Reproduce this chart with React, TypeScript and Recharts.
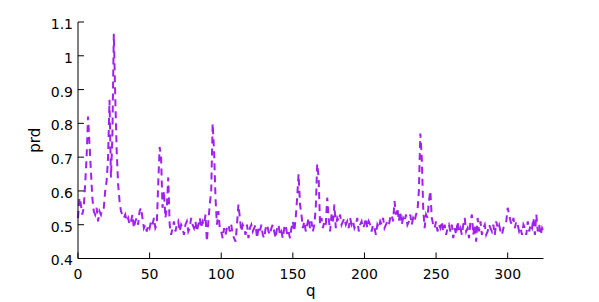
import React from 'react';
import { LineChart, Line, XAxis, YAxis, Label } from 'recharts';

const PRD: number[] = [
  0.52, 0.58, 0.56, 0.53, 0.55, 0.62, 0.70, 0.82, 0.74, 0.66,
  0.58, 0.54, 0.53, 0.55, 0.51, 0.54, 0.53, 0.55, 0.55, 0.60,
  0.63, 0.70, 0.87, 0.64, 0.76, 1.065, 0.88, 0.72, 0.62, 0.57,
  0.54, 0.53, 0.52, 0.53, 0.51, 0.52, 0.50, 0.51, 0.53, 0.49,
  0.51, 0.52, 0.50, 0.54, 0.55, 0.52, 0.49, 0.50, 0.48, 0.50,
  0.49, 0.51, 0.50, 0.52, 0.49, 0.50, 0.62, 0.73, 0.70, 0.55,
  0.60, 0.52, 0.55, 0.64, 0.50, 0.47, 0.49, 0.51, 0.48, 0.50,
  0.51, 0.48, 0.50, 0.49, 0.47, 0.50, 0.51, 0.48, 0.49, 0.52,
  0.50, 0.49, 0.51, 0.48, 0.50, 0.52, 0.49, 0.51, 0.50, 0.53,
  0.45, 0.51, 0.56, 0.60, 0.80, 0.72, 0.58, 0.50, 0.54, 0.49,
  0.48, 0.46, 0.49, 0.47, 0.49, 0.50, 0.48, 0.50, 0.47, 0.46,
  0.45, 0.50, 0.56, 0.52, 0.48, 0.50, 0.49, 0.47, 0.50, 0.46,
  0.49, 0.50, 0.48, 0.49, 0.50, 0.46, 0.49, 0.48, 0.50, 0.47,
  0.46, 0.49, 0.50, 0.48, 0.47, 0.49, 0.50, 0.48, 0.46, 0.49,
  0.50, 0.47, 0.48, 0.46, 0.49, 0.50, 0.47, 0.48, 0.46, 0.49,
  0.51, 0.48, 0.52, 0.58, 0.65, 0.56, 0.53, 0.49, 0.51, 0.48,
  0.50, 0.52, 0.49, 0.51, 0.48, 0.50, 0.55, 0.68, 0.64, 0.50,
  0.52, 0.49, 0.51, 0.50, 0.58, 0.52, 0.48, 0.53, 0.51, 0.56,
  0.49, 0.52, 0.51, 0.53, 0.50, 0.51, 0.52, 0.50, 0.51, 0.49,
  0.52, 0.50, 0.51, 0.49, 0.50, 0.52, 0.48, 0.50, 0.51, 0.49,
  0.50, 0.52, 0.49, 0.51, 0.50, 0.48, 0.50, 0.49, 0.47, 0.50,
  0.49, 0.51, 0.50, 0.52, 0.49, 0.50, 0.51, 0.50, 0.52, 0.53,
  0.51, 0.57, 0.53, 0.55, 0.51, 0.54, 0.50, 0.52, 0.51, 0.53,
  0.50, 0.51, 0.53, 0.50, 0.52, 0.51, 0.53, 0.54, 0.60, 0.77,
  0.70, 0.55, 0.49, 0.53, 0.52, 0.57, 0.60, 0.52, 0.50, 0.49,
  0.51, 0.48, 0.50, 0.49, 0.51, 0.48, 0.50, 0.47, 0.49, 0.50,
  0.48, 0.50, 0.46, 0.49, 0.47, 0.51, 0.48, 0.49, 0.47, 0.50,
  0.52, 0.48, 0.49, 0.46, 0.51, 0.53, 0.47, 0.50, 0.45, 0.52,
  0.48, 0.51, 0.47, 0.49, 0.50, 0.47, 0.48, 0.50, 0.49, 0.48,
  0.50, 0.47, 0.51, 0.49, 0.50, 0.48, 0.47, 0.49, 0.50, 0.51,
  0.55, 0.53, 0.51, 0.50, 0.52, 0.49, 0.51, 0.50, 0.48, 0.49,
  0.47, 0.50, 0.49, 0.47, 0.51, 0.48, 0.50, 0.49, 0.52, 0.47,
  0.53, 0.48, 0.50, 0.47, 0.49, 0.48,
];

const X_TICKS = [0, 50, 100, 150, 200, 250, 300];
const Y_TICKS = [0.4, 0.5, 0.6, 0.7, 0.8, 0.9, 1, 1.1];
const X_DOMAIN: [number, number] = [0, 325];
const Y_DOMAIN: [number, number] = [0.4, 1.1];

const data = PRD.map((v, i) => ({ q: i, prd: v }));

const FONT = 'DejaVu Sans';
const tickStyle = { fontSize: 14, fill: '#000', fontFamily: FONT };

export default function App() {
  return (
    <div style={{ position: 'absolute', left: 0, top: 0, width: 599, height: 302, background: '#fff' }}>
      <LineChart
        width={599}
        height={302}
        data={data}
        margin={{ top: 22, right: 55.5, left: 0, bottom: 0 }}
      >
        <XAxis
          xAxisId="b"
          dataKey="q"
          type="number"
          domain={X_DOMAIN}
          ticks={X_TICKS}
          height={43.5}
          tickSize={-6}
          tickMargin={17}
          stroke="#000"
          tick={tickStyle}
          interval={0}
        >
          <Label value="q" position="insideBottom" offset={6} style={{ fontSize: 15, fill: '#000', fontFamily: FONT }} />
        </XAxis>
        <XAxis
          xAxisId="t"
          orientation="top"
          dataKey="q"
          type="number"
          domain={X_DOMAIN}
          ticks={X_TICKS}
          height={0}
          tickSize={-6}
          tick={false}
          stroke="#000"
          interval={0}
        />
        <YAxis
          yAxisId="l"
          type="number"
          domain={Y_DOMAIN}
          ticks={Y_TICKS}
          width={78}
          tickSize={-6}
          tickMargin={11}
          stroke="#000"
          tick={{ ...tickStyle, dy: 2 }}
          interval={0}
          tickFormatter={(v: number) => String(v)}
        >
          <Label value="prd" angle={-90} position="center" dx={-4} style={{ fontSize: 15, fill: '#000', fontFamily: FONT, textAnchor: 'middle' }} />
        </YAxis>
        <YAxis
          yAxisId="r"
          orientation="right"
          type="number"
          domain={Y_DOMAIN}
          ticks={Y_TICKS}
          width={0}
          tickSize={-6}
          tick={false}
          stroke="#000"
          interval={0}
        />
        <Line
          xAxisId="t"
          yAxisId="r"
          type="linear"
          dataKey="prd"
          stroke="none"
          dot={false}
          activeDot={false}
          isAnimationActive={false}
        />
        <Line
          xAxisId="b"
          yAxisId="l"
          type="linear"
          dataKey="prd"
          stroke="#a020f0"
          strokeWidth={2}
          strokeDasharray="7 5"
          dot={false}
          activeDot={false}
          isAnimationActive={false}
        />
      </LineChart>
    </div>
  );
}
